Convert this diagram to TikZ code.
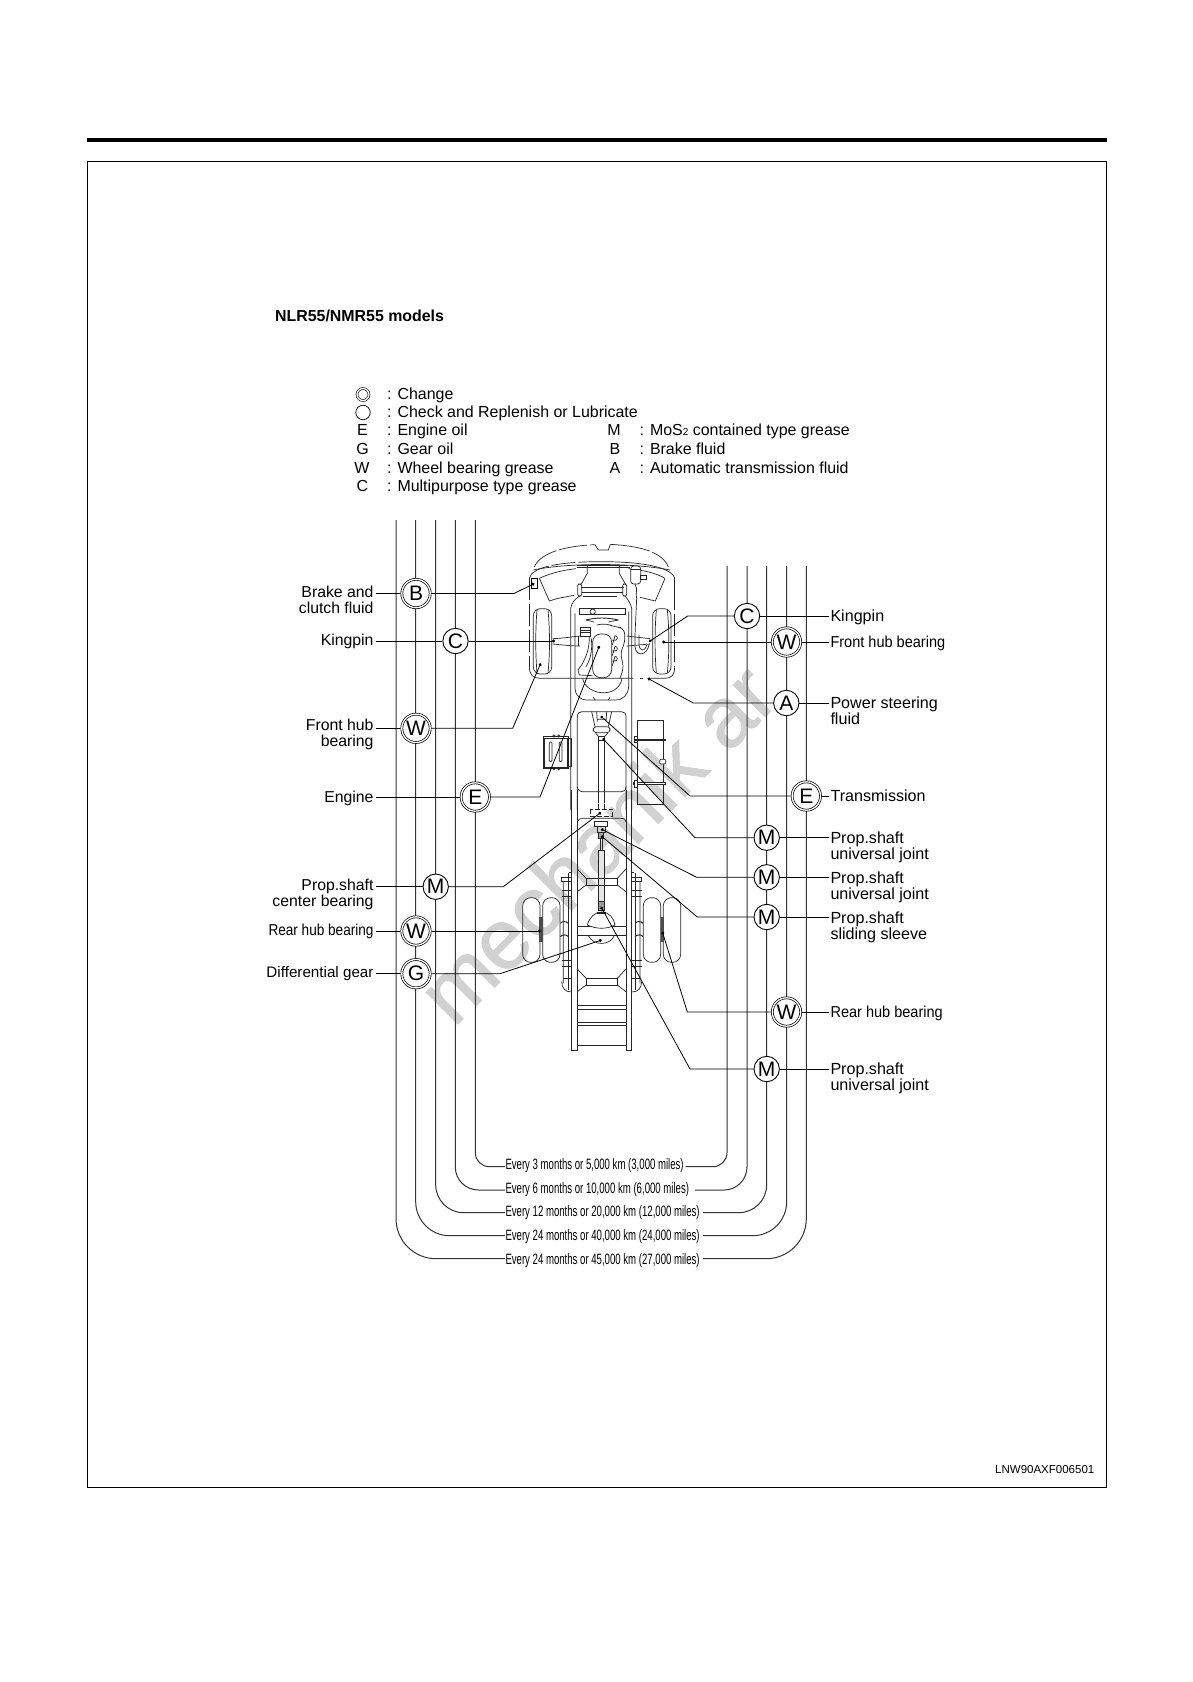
\documentclass[tikz,border=0pt]{standalone}
\usepackage{fontspec}
\setmainfont{Liberation Sans}
\newfontfamily\rhubl[FakeStretch=0.86]{Liberation Sans}
\newfontfamily\rhubr[FakeStretch=0.92]{Liberation Sans}
\newfontfamily\every[FakeStretch=0.64]{Liberation Sans}
\newfontfamily\wmfont[FakeBold=1.2]{Liberation Sans}
\usetikzlibrary{arrows.meta}
\newcommand{\fs}[1]{\fontsize{#1}{#1}\selectfont}
\tikzset{
  rail/.style={line width=1pt,color=black!80},
  truck/.style={line width=.7pt,color=black!85},
  conn/.style={line width=.8pt,-{Circle[length=3pt,width=3pt]}},
  lead/.style={line width=.8pt},
  ringnode/.style={circle,draw,fill=white,double,double distance=1.3pt,line width=.7pt,minimum size=28.4pt,inner sep=0pt,outer sep=1.5pt,font=\fs{21}},
  dotnode/.style={circle,draw,fill=white,line width=.9pt,minimum size=25.4pt,inner sep=0pt,outer sep=.4pt,font=\fs{21}},
  leftlabel/.style={anchor=east,align=right,inner sep=0pt,outer sep=2pt,font=\fs{15.8}},
  leftlabeltwo/.style={leftlabel,anchor=north east},
  rightlabel/.style={anchor=west,align=left,inner sep=0pt,outer sep=2pt,font=\fs{16.1}},
  legend/.style={anchor=west,inner sep=0pt,font=\fs{15.95},text height=12pt,text depth=3.5pt},
  legendkey/.style={inner sep=0pt,font=\fs{16},text height=12pt,text depth=3.5pt},
  every/.style={anchor=west,inner sep=0pt,font=\every\fs{15},text height=11pt,text depth=3.5pt}
}
\begin{document}
\begin{tikzpicture}[x=1pt,y=-1pt]
\useasboundingbox (0,0) rectangle (1192,1682);
\fill[white] (0,0) rectangle (1192,1682);
% watermark
\node[rotate=45,text=black!18,font=\wmfont\fs{85},inner sep=0pt] (wm) at (596,843) {mechanik ar};
% page frame
\draw[line width=4pt] (87,139.5) -- (1107,139.5);
\draw[line width=.9pt] (87,161.5) rectangle (1106.5,1487);
\node[anchor=west,inner sep=0pt,font=\bfseries\fs{15.9}] (title) at (275,316) {NLR55/NMR55 models};
\node[anchor=east,inner sep=0pt,font=\fs{11.5}] (code) at (1094.5,1470) {LNW90AXF006501};
% legend
\node[circle,draw,double,double distance=1.3pt,line width=.6pt,minimum size=12pt,inner sep=0pt] (k1) at (363,394.5) {};
\node[circle,draw,line width=.7pt,minimum size=14.5pt,inner sep=0pt] (k2) at (363,412.5) {};
\node[legendkey] (k3) at (362.5,431) {E};
\node[legendkey] (k4) at (362.5,450) {G};
\node[legendkey] (k5) at (362,468.8) {W};
\node[legendkey] (k6) at (362.5,487) {C};
\node[legend] (t1) at (387,395) {: Change};
\node[legend] (t2) at (387,413) {: Check and Replenish or Lubricate};
\node[legend] (t3) at (387,431) {: Engine oil};
\node[legend] (t4) at (387,450) {: Gear oil};
\node[legend] (t5) at (387,468.8) {: Wheel bearing grease};
\node[legend] (t6) at (387,487) {: Multipurpose type grease};
\node[legendkey] (k7) at (614,431) {M};
\node[legendkey] (k8) at (615,450) {B};
\node[legendkey] (k9) at (615,468.8) {A};
\node[legend] (t7) at (639.5,431) {: MoS{\fs{10}2} contained type grease};
\node[legend] (t8) at (639.5,450) {: Brake fluid};
\node[legend] (t9) at (639.5,468.8) {: Automatic transmission fluid};
% interval texts
\node[every] (e1) at (505.3,1165.7) {Every 3 months or 5,000 km (3,000 miles)};
\node[every] (e2) at (505.3,1190) {Every 6 months or 10,000 km (6,000 miles)};
\node[every] (e3) at (505.3,1213) {Every 12 months or 20,000 km (12,000 miles)};
\node[every] (e4) at (505.3,1236.7) {Every 24 months or 40,000 km (24,000 miles)};
\node[every] (e5) at (505.3,1260.5) {Every 24 months or 45,000 km (27,000 miles)};
\coordinate (r1) at (685.7,1166.7);
\coordinate (r2) at (695,1190);
\coordinate (r3) at (703,1212.7);
\coordinate (r4) at (703,1235.7);
\coordinate (r5) at (703,1258.7);
\coordinate (l1) at (505,1166.7);
\coordinate (l2) at (505,1190);
\coordinate (l3) at (505,1212.7);
\coordinate (l4) at (505,1235.7);
\coordinate (l5) at (505,1258.7);
% rails
\draw[rail,rounded corners=14pt] (475.3,520) -- (475.3,1166.7) -- (l1);
\draw[rail,rounded corners=23pt] (455.3,520) -- (455.3,1190) -- (l2);
\draw[rail,rounded corners=28pt] (435.7,520) -- (435.7,1212.7) -- (l3);
\draw[rail,rounded corners=34pt] (415.7,520) -- (415.7,1235.7) -- (l4);
\draw[rail,rounded corners=40pt] (396,520) -- (396,1258.7) -- (l5);
\draw[rail,rounded corners=14pt] (727,566) -- (727,1166.7) -- (r1);
\draw[rail,rounded corners=23pt] (747,566) -- (747,1190) -- (r2);
\draw[rail,rounded corners=28pt] (766.7,566) -- (766.7,1212.7) -- (r3);
\draw[rail,rounded corners=34pt] (786.7,566) -- (786.7,1235.7) -- (r4);
\draw[rail,rounded corners=40pt] (806.3,566) -- (806.3,1258.7) -- (r5);

% ---------- truck, front half (zoom coordinates, 3 units = 1 px)
\begin{scope}[shift={(500,510)},x=.33333pt,y=-.33333pt,truck]
% cab
\draw[dash pattern=on 28pt off 3pt] (103,170) .. controls (125,125) and (200,108) .. (285,104);
\draw (285,104) -- (295,120) -- (325,120) -- (331,103);
\draw[dash pattern=on 40pt off 3pt] (331,103) .. controls (420,108) and (485,125) .. (505,170);
\draw[dash pattern=on 24pt off 3pt] (88,205) .. controls (95,170) and (180,155) .. (305,155);
\draw (305,155) .. controls (420,155) and (515,170) .. (524,205);
\draw (100,180) .. controls (200,158) and (400,158) .. (510,180);
\draw[dash pattern=on 22pt off 4pt] (88,205) -- (88,470);
\draw (88,470) .. controls (88,495) and (100,505) .. (120,505) -- (400,505);
\draw (524,205) -- (524,235);
\draw[dash pattern=on 22pt off 4pt] (524,235) -- (524,470);
\draw (524,470) .. controls (524,495) and (515,505) .. (495,505) -- (445,505);
\draw (420,505) -- (430,505);
\draw (118,205) .. controls (150,190) and (190,180) .. (228,176);
\draw (118,205) -- (148,273) .. controls (170,265) and (190,262) .. (222,256);
\draw (495,205) .. controls (470,190) and (430,180) .. (385,176);
\draw (495,205) -- (466,273) -- (420,262);
% front frame
\draw (230,172) -- (390,172);
\draw (232,165) -- (385,165);
\draw (262,165) -- (262,190) -- (242,225);
\draw (358,165) -- (358,190) -- (378,225);
\draw (244,232) -- (372,232) (246,247) -- (370,247);
\draw[rounded corners=2pt] (233,222) rectangle (245,258);
\draw[rounded corners=2pt] (368,222) rectangle (380,258);
\draw (248,258) -- (352,258);
\draw (212,900) -- (212,295) .. controls (214,280) and (225,265) .. (240,258);
\draw (395,900) -- (395,295) .. controls (392,280) and (382,265) .. (375,258);
\draw (225,310) -- (225,535) .. controls (228,560) and (240,570) .. (265,570) -- (345,570) .. controls (370,570) and (384,555) .. (386,530) -- (386,305);
\draw (280,562) -- (285,570) (330,562) -- (325,570);
% radiator, fan
\draw (238,296) rectangle (375,314);
\draw (278,305) circle[radius=8];
\draw[line width=.9pt] (258,330) .. controls (290,322) and (320,322) .. (355,330);
\draw (258,330) -- (282,336) (355,330) -- (325,336);
% engine
\draw[rounded corners=8pt] (278,372) rectangle (335,503);
\draw[rounded corners=6pt] (290,345) -- (320,340) -- (345,352) -- (372,352) -- (376,395) -- (360,430) -- (372,470) -- (360,505);
\foreach \yy in {398,430,460} {\draw (337,\yy-7) -- (345,\yy-7) arc[start angle=90,end angle=-90,radius=7] -- (337,\yy+7);}
\draw (242,352) rectangle (272,380);
\draw (242,360) -- (272,360) (242,367) -- (272,367);
\draw (268,380) .. controls (268,420) and (258,440) .. (245,465) -- (234,480) -- (238,495) -- (278,497);
\draw (274,385) .. controls (278,425) and (270,450) .. (258,470);
\draw (248,505) .. controls (255,555) and (355,570) .. (366,505);
% front axle
\draw (158,386) .. controls (190,385) and (215,380) .. (240,378);
\draw (158,402) .. controls (190,405) and (215,408) .. (240,408);
\draw (380,378) -- (450,386) (380,408) -- (450,402);
\draw (235,378) -- (235,408);
\draw (405,222) .. controls (415,240) and (405,250) .. (410,265) -- (405,375) -- (405,410) .. controls (408,440) and (440,440) .. (448,402);
\draw (417,375) -- (417,405) .. controls (420,425) and (435,425) .. (440,405);
\draw[fill=white,rounded corners=3pt] (392,168) rectangle (422,222);
\draw (392,178) -- (422,178);
\draw (422,195) rectangle (440,208);
% front wheels
\foreach \xa in {100,458} {
 \draw[rounded corners=7pt] (\xa,296) rectangle (\xa+55,492);
 \draw (\xa+11,300) .. controls (\xa+6,360) and (\xa+6,430) .. (\xa+11,488);
 \draw (\xa+44,300) .. controls (\xa+50,360) and (\xa+50,430) .. (\xa+44,488);
}
% transmission bay
\draw (232,900) -- (232,620) .. controls (232,610) and (238,605) .. (246,605) -- (364,605) .. controls (372,605) and (378,610) .. (378,620) -- (378,900);
\draw (232,830) .. controls (234,842) and (240,845) .. (246,845) -- (364,845) .. controls (372,845) and (377,842) .. (378,830);
\draw (275,605) -- (285,650) (335,605) -- (325,650) (290,605) -- (292,635) (320,605) -- (318,635) (292,628) -- (318,628);
\draw[rounded corners=3pt] (280,650) rectangle (330,668);
\draw (286,668) -- (296,680) (324,668) -- (314,680) (296,680) -- (314,680);
\draw[fill=white] (296,678) rectangle (312,692);
\draw (296,692) -- (296,870) (313,692) -- (313,870);
\draw[dashed] (296,870) -- (296,900) (313,870) -- (313,900);
% tank
\draw (411,630) rectangle (490,884);
\draw[line width=1.4pt] (402,690) -- (497,690);
\draw (402,680) rectangle (411,698);
\draw[fill=white] (400,818) rectangle (497,823);
\draw[fill=white] (402,810) rectangle (411,832);
\draw[fill=white,rounded corners=1pt] (479,748) rectangle (497,762);
% battery box
\draw (130,680) rectangle (205,775);
\draw (133,684) rectangle (203,771);
\draw (205,685) -- (214,685) -- (214,770) -- (205,770);
\draw[rounded corners=1pt] (148,696) rectangle (156,755);
\draw[rounded corners=1pt] (178,696) rectangle (186,755);
\foreach \xa in {162,176} {\draw (\xa,678) circle[radius=3.5]; \draw (\xa,776) circle[radius=3.5];}
\end{scope}

% ---------- truck, rear half
\begin{scope}[shift={(500,790)},x=.33333pt,y=-.33333pt,truck]
\draw (215,0) -- (215,780) -- (232,780) -- (232,0);
\draw (378,0) -- (378,780) -- (395,780) -- (395,0);
\draw (232,95) .. controls (234,88) and (240,85) .. (248,85) -- (362,85) .. controls (372,85) and (377,88) .. (378,95);
\draw[dashed] (295,25) -- (295,58) (313,25) -- (313,58);
\draw[dash pattern=on 5pt off 2pt] (270,58) rectangle (338,78);
\draw (283,93) rectangle (322,110);
\draw (293,110) rectangle (315,128);
\draw[fill=black!35] (296,128) rectangle (310,145);
\draw (300,145) -- (300,180) (308,145) -- (308,180);
\draw[fill=black!10] (295,180) rectangle (313,335);
\draw[fill=black!40] (295,335) rectangle (313,362);
% cross members
\foreach \yy in {0,300} {
 \draw (258,265+\yy) rectangle (352,285+\yy);
 \draw (232,237+\yy) -- (258,265+\yy) (378,237+\yy) -- (352,265+\yy);
 \draw (232,305+\yy) -- (258,285+\yy) (378,305+\yy) -- (352,285+\yy);
}
% axle
\draw (232,408) -- (378,408) (232,437) -- (378,437);
\draw[fill=white] (262,405) .. controls (268,382) and (285,366) .. (305,366) .. controls (328,366) and (342,385) .. (345,405) .. controls (320,418) and (290,418) .. (262,405) -- cycle;
\draw[line width=1.8pt] (290,368) -- (318,368);
\draw (265,437) .. controls (280,468) and (330,468) .. (343,437);
% rear ladder
\draw (232,645) -- (378,645) (232,658) -- (378,658);
\draw (232,697) -- (378,697) (232,705) -- (378,705);
\draw (232,765) -- (378,765);
% rear wheels
\foreach \xa in {68,128,430,490} {
 \draw[rounded corners=8pt] (\xa,323) rectangle (\xa+52,517);
}
\fill[black!70] (118,380) rectangle (128,455);
\fill[black!70] (482,380) rectangle (492,455);
% springs
\draw (185,262) -- (215,262) (185,262) -- (185,275) -- (215,275);
\draw (205,250) -- (205,600) (208,248) -- (215,248);
\draw (190,275) -- (190,580) (185,575) .. controls (186,595) and (195,606) .. (215,606);
\draw (185,300) -- (215,300) (185,320) -- (215,320) (185,510) -- (215,510) (185,530) -- (215,530) (190,565) -- (215,565);
\draw[line width=1pt] (181,400) .. controls (185,393) and (200,393) .. (205,400);
\draw[line width=1pt] (181,440) .. controls (185,433) and (200,433) .. (205,440);
\draw (395,262) -- (425,262) (425,262) -- (425,275) -- (395,275);
\draw (405,250) -- (405,600) (402,248) -- (395,248);
\draw (420,275) -- (420,580) (425,575) .. controls (424,595) and (415,606) .. (395,606);
\draw (395,300) -- (425,300) (395,320) -- (425,320) (395,510) -- (425,510) (395,530) -- (425,530) (420,565) -- (395,565);
\draw[line width=1pt] (429,400) .. controls (425,393) and (410,393) .. (405,400);
\draw[line width=1pt] (429,440) .. controls (425,433) and (410,433) .. (405,440);
\end{scope}

% brake fluid reservoir
\node[draw,line width=.8pt,fill=white,minimum width=6pt,minimum height=10.5pt,inner sep=0pt] (res) at (534.3,583.5) {};

% circles, left
\node[ringnode] (cB) at (416,593.5) {B};
\node[dotnode] (cCl) at (455.5,641) {C};
\node[ringnode] (cWfl) at (416,728.3) {W};
\node[ringnode] (cEl) at (475.3,797) {E};
\node[dotnode] (cMl) at (435.7,886.7) {M};
\node[ringnode] (cWrl) at (416,931) {W};
\node[ringnode] (cG) at (416,973.7) {G};
% circles, right
\node[dotnode] (cCr) at (747,616) {C};
\node[ringnode] (cWfr) at (786.5,642) {W};
\node[dotnode] (cA) at (786.3,703) {A};
\node[ringnode] (cEr) at (806.3,796) {E};
\node[dotnode] (cM1) at (766.7,837.7) {M};
\node[dotnode] (cM2) at (766.7,877.3) {M};
\node[dotnode] (cM3) at (766.7,917) {M};
\node[ringnode] (cWrr) at (786.5,1012) {W};
\node[dotnode] (cM4) at (766.7,1069) {M};

% labels, left
\node[leftlabeltwo] (lB) at (375.5,584.5) {Brake and\\[0pt]clutch fluid};
\node[leftlabel] (lK) at (375.5,641) {Kingpin};
\node[leftlabeltwo] (lF) at (375.5,717.5) {Front hub\\[0pt]bearing};
\node[leftlabel] (lE) at (375.5,798) {Engine};
\node[leftlabeltwo] (lP) at (375.5,877) {Prop.shaft\\[0pt]center bearing};
\node[leftlabel,font=\rhubl\fs{15.8}] (lR) at (375.5,931) {Rear hub bearing};
\node[leftlabel,font=\fs{15.2}] (lD) at (375.5,973.5) {Differential gear};
% labels, right
\node[rightlabel] (rK) at (828.5,617) {Kingpin};
\node[rightlabel,font=\rhubr\fs{15.8}] (rF) at (828.5,643) {Front hub bearing};
\node[rightlabel,anchor=north west] (rP) at (828.5,695) {Power steering\\[0pt]fluid};
\node[rightlabel] (rT) at (828.5,796) {Transmission};
\node[rightlabel,anchor=north west] (rU1) at (828.5,830) {Prop.shaft\\[0pt]universal joint};
\node[rightlabel,anchor=north west] (rU2) at (828.5,870) {Prop.shaft\\[0pt]universal joint};
\node[rightlabel,anchor=north west] (rS) at (828.5,909.5) {Prop.shaft\\[0pt]sliding sleeve};
\node[rightlabel,font=\rhubr\fs{15.8}] (rR) at (828.5,1013) {Rear hub bearing};
\node[rightlabel,anchor=north west] (rU3) at (828.5,1061) {Prop.shaft\\[0pt]universal joint};

% connector targets and bends
\coordinate (pB) at (534.3,583.5);   \coordinate (bB) at (514,593.5);
\coordinate (pCl) at (555,641);
\coordinate (pWfl) at (540.7,663.3); \coordinate (bWfl) at (512.7,728.3);
\coordinate (pEl) at (599.3,646);    \coordinate (bEl) at (540,797);
\coordinate (pMl) at (601,812.3);    \coordinate (bMl) at (503.3,886.7);
\coordinate (pWrl) at (540.7,931);
\coordinate (pG) at (601.7,940);     \coordinate (bG) at (500,973.7);
\coordinate (pCr) at (649,641.7);    \coordinate (bCr) at (687.7,616);
\coordinate (pWfr) at (662.3,642);
\coordinate (pA) at (647.7,678.3);   \coordinate (bA) at (693.3,703);
\coordinate (pEr) at (600.7,716);    \coordinate (bEr) at (690,796);
\coordinate (pM1) at (602.7,738.3);  \coordinate (bM1) at (695,837.7);
\coordinate (pM2) at (601,829);      \coordinate (bM2) at (696.7,877.3);
\coordinate (pM3) at (601,835.7);    \coordinate (bM3) at (697.3,917);
\coordinate (pWrr) at (662.3,931.7); \coordinate (bWrr) at (687.3,1012);
\coordinate (pM4) at (601,906.7);    \coordinate (bM4) at (690,1069);

% connectors
\draw[conn] (cB.east) -- (bB) -- (pB);
\draw[conn] (cCl.east) -- (pCl);
\draw[conn] (cWfl.east) -- (bWfl) -- (pWfl);
\draw[conn] (cEl.east) -- (bEl) -- (pEl);
\draw[conn] (cMl.east) -- (bMl) -- (pMl);
\draw[conn] (cWrl.east) -- (pWrl);
\draw[conn] (cG.east) -- (bG) -- (pG);
\draw[conn] (cCr.west) -- (bCr) -- (pCr);
\draw[conn] (cWfr.west) -- (pWfr);
\draw[conn] (cA.west) -- (bA) -- (pA);
\draw[conn] (cEr.west) -- (bEr) -- (pEr);
\draw[conn] (cM1.west) -- (bM1) -- (pM1);
\draw[conn] (cM2.west) -- (bM2) -- (pM2);
\draw[conn] (cM3.west) -- (bM3) -- (pM3);
\draw[conn] (cWrr.west) -- (bWrr) -- (pWrr);
\draw[conn] (cM4.west) -- (bM4) -- (pM4);
% leads to labels
\draw[lead] (lB.east |- cB) -- (cB.west);
\draw[lead] (lK.east |- cCl) -- (cCl.west);
\draw[lead] (lF.east |- cWfl) -- (cWfl.west);
\draw[lead] (lE.east |- cEl) -- (cEl.west);
\draw[lead] (lP.east |- cMl) -- (cMl.west);
\draw[lead] (lR.east |- cWrl) -- (cWrl.west);
\draw[lead] (lD.east |- cG) -- (cG.west);
\draw[lead] (cCr.east) -- (rK.west |- cCr);
\draw[lead] (cWfr.east) -- (rF.west |- cWfr);
\draw[lead] (cA.east) -- (rP.west |- cA);
\draw[lead] (cEr.east) -- (rT.west);
\draw[lead] (cM1.east) -- (rU1.west |- cM1);
\draw[lead] (cM2.east) -- (rU2.west |- cM2);
\draw[lead] (cM3.east) -- (rS.west |- cM3);
\draw[lead] (cWrr.east) -- (rR.west |- cWrr);
\draw[lead] (cM4.east) -- (rU3.west |- cM4);
\end{tikzpicture}
\end{document}
